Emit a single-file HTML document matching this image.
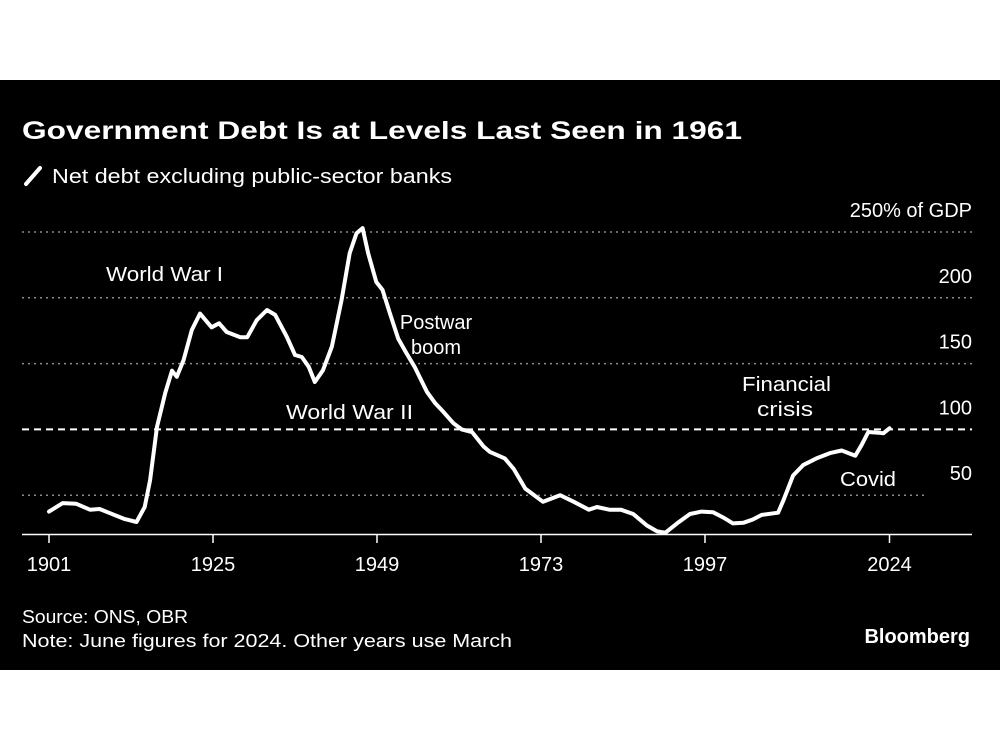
<!DOCTYPE html>
<html><head><meta charset="utf-8"><style>
html,body{margin:0;padding:0;background:#fff;}
svg{display:block;}
text{font-family:"Liberation Sans",sans-serif;fill:#fff;}
</style></head><body>
<svg id="chart" width="1000" height="750" viewBox="0 0 1000 750">
<rect x="0" y="0" width="1000" height="80" fill="#fff"/>
<rect x="0" y="80" width="1000" height="590" fill="#000"/>
<text x="22" y="139" font-size="25" font-weight="bold" textLength="720" lengthAdjust="spacingAndGlyphs">Government Debt Is at Levels Last Seen in 1961</text>
<line x1="26" y1="184" x2="40" y2="168" stroke="#fff" stroke-width="4" stroke-linecap="round"/>
<text x="52" y="183" font-size="20" textLength="400" lengthAdjust="spacingAndGlyphs">Net debt excluding public-sector banks</text>
<g id="grid"></g>
<g id="ylabels"></g>
<line x1="22" y1="534.5" x2="972" y2="534.5" stroke="#fff" stroke-width="1.5"/>
<g id="xticks"></g>
<path id="series" fill="none" stroke="#fff" stroke-width="4" stroke-linejoin="round" stroke-linecap="round"/>
<g>
<text x="106" y="281" font-size="20" textLength="117" lengthAdjust="spacingAndGlyphs">World War I</text>
<text x="286" y="419" font-size="20" textLength="127" lengthAdjust="spacingAndGlyphs">World War II</text>
<text x="436" y="329" font-size="20" text-anchor="middle">Postwar</text>
<text x="436" y="354" font-size="20" text-anchor="middle">boom</text>
<text x="742" y="391" font-size="20" textLength="89" lengthAdjust="spacingAndGlyphs">Financial</text>
<text x="757" y="416" font-size="20" textLength="56" lengthAdjust="spacingAndGlyphs">crisis</text>
<text x="840" y="486" font-size="20" textLength="56" lengthAdjust="spacingAndGlyphs">Covid</text>
</g>
<text x="22" y="623" font-size="18" textLength="166" lengthAdjust="spacingAndGlyphs">Source: ONS, OBR</text>
<text x="22" y="647" font-size="18" textLength="490" lengthAdjust="spacingAndGlyphs">Note: June figures for 2024. Other years use March</text>
<text x="970" y="643" font-size="20" font-weight="bold" text-anchor="end">Bloomberg</text>
</svg>
<script>
const years=[1901,1903,1905,1907,1908.4,1909.6,1912,1913.8,1915,1915.8,1916.8,1918,1919,1919.7,1920.7,1921.9,1923.1,1924.8,1925.9,1927,1929,1930,1931.4,1932.9,1934.1,1935.8,1937,1938,1939,1939.9,1941.1,1942.4,1943.8,1945,1946,1946.9,1947.7,1948.9,1949.8,1950.9,1952.1,1953.3,1954.5,1956.3,1957.5,1958.7,1960.2,1961.4,1962.9,1964.6,1965.5,1967.7,1969,1970.7,1971.5,1973.3,1975.8,1977.8,1980,1981.2,1983,1984.7,1986.5,1988.5,1990,1991.2,1992.9,1994.8,1996.5,1998.2,1999.7,2001.1,2002.6,2004,2005.3,2007.7,2008.5,2009.9,2011.4,2013.3,2015.3,2017,2019,2019.9,2020.9,2022.4,2023.1,2024];
const debt=[37.5,44,43.5,39,39.5,37,32,29.6,41,61.5,102,127.6,144.6,140,152.7,175.5,188,177.6,180.6,174,170,170,183,190.7,187,170.4,156.5,155,147.6,136,145,163,198,234,249,253,234,212,206,188,169,158,147.6,128.6,120,113.4,104.6,100,98,87,83,78,70,55,52,45,50,45,39,41,39,39,35.7,27,22.5,21.5,28.6,35.7,37.5,37,33,28.6,29,31.5,35,36.7,46.4,65,73,78,82,84,80,88,98,97.5,97,100.8];
const xTicks=[1901,1925,1949,1973,1997,2024];
const yTicks=[50,100,150,200,250];
const yTickLabels=["50","100","150","200","250% of GDP"];
const X=y=>49+(y-1901)*6.8333;
const Y=v=>561-v*1.316;
const NS="http://www.w3.org/2000/svg";
const grid=document.getElementById('grid'),yl=document.getElementById('ylabels'),xt=document.getElementById('xticks');
yTicks.forEach((v,i)=>{
  const l=document.createElementNS(NS,'line');
  
  
  l.setAttribute('x1',22);l.setAttribute('x2',v===50?928:972);
  l.setAttribute('y1',Y(v));l.setAttribute('y2',Y(v));
  l.setAttribute('stroke',v===100?'#fff':'#8a8a8a');
  l.setAttribute('stroke-width',v===100?2:1.5);
  l.setAttribute('stroke-dasharray',v===100?'7 5':'2 4');
  grid.appendChild(l);
  const t=document.createElementNS(NS,'text');
  
  
  t.setAttribute('x',972);t.setAttribute('y',Y(v)-15);
  t.setAttribute('text-anchor','end');t.setAttribute('font-size','20');
  t.textContent=yTickLabels[i];
  yl.appendChild(t);
});
xTicks.forEach(y=>{
  const l=document.createElementNS(NS,'line');
  
  
  l.setAttribute('x1',X(y));l.setAttribute('x2',X(y));l.setAttribute('y1',535);l.setAttribute('y2',543);
  l.setAttribute('stroke','#fff');l.setAttribute('stroke-width',1.5);
  xt.appendChild(l);
  const t=document.createElementNS(NS,'text');
  
  
  t.setAttribute('x',X(y));t.setAttribute('y',571);
  t.setAttribute('text-anchor','middle');t.setAttribute('font-size','20');
  t.textContent=y;
  xt.appendChild(t);
});
document.getElementById('series').setAttribute('d',years.map((y,i)=>(i?'L':'M')+X(y).toFixed(1)+' '+Y(debt[i]).toFixed(1)).join(' '));
</script>
</body></html>
